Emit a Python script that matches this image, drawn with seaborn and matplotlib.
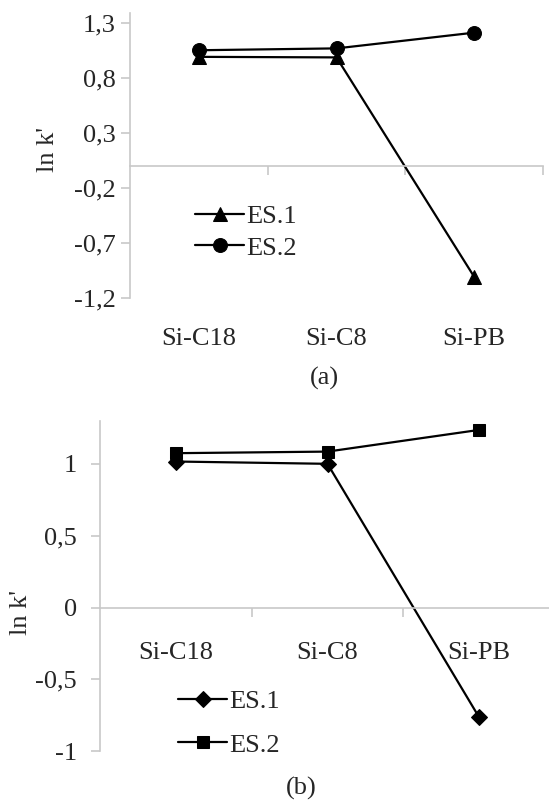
import matplotlib

matplotlib.use('Agg')
import matplotlib.pyplot as plt
import pandas as pd
import seaborn as sns
from matplotlib.ticker import FixedLocator

# data
phases = ['Si-C18', 'Si-C8', 'Si-PB']
series = ['ES.1', 'ES.2']
lnk_a_es1 = [0.99, 0.985, -1.01]
lnk_a_es2 = [1.05, 1.067, 1.21]
lnk_b_es1 = [1.016, 1.0, -0.764]
lnk_b_es2 = [1.074, 1.085, 1.236]
yticks_a = [-1.2, -0.7, -0.2, 0.3, 0.8, 1.3]
ytick_labels_a = ['-1,2', '-0,7', '-0,2', '0,3', '0,8', '1,3']
yticks_b = [-1, -0.5, 0, 0.5, 1]
ytick_labels_b = ['-1', '-0,5', '0', '0,5', '1']

GRAY = '#c8c8c8'


def long_df(es1, es2):
    return pd.DataFrame({
        'phase': phases * 2,
        'lnk': es1 + es2,
        'series': [series[0]] * 3 + [series[1]] * 3,
    })


def panel(ax, df, markers, msize, yticks, ylabels, ylim, label_pad, ylab_xy, leg_xy, leg_spacing):
    sns.lineplot(data=df, x='phase', y='lnk', hue='series', style='series',
                 markers=markers, dashes=False, palette=['black', 'black'],
                 markersize=msize, linewidth=1.6, sort=False, ax=ax,
                 markeredgecolor='black')
    ax.set_xlim(-0.5, 2.5)
    ax.set_ylim(*ylim)
    ax.set_yticks(yticks)
    ax.set_yticklabels(ylabels)
    ax.set_xticks(range(len(phases)))
    ax.set_xticklabels(phases)
    ax.xaxis.set_minor_locator(FixedLocator([0.5, 1.5, 2.5]))
    for s in ['top', 'right']:
        ax.spines[s].set_visible(False)
    ax.spines['left'].set_color(GRAY)
    ax.spines['left'].set_linewidth(1.2)
    ax.spines['bottom'].set_position(('data', 0))
    ax.spines['bottom'].set_color(GRAY)
    ax.spines['bottom'].set_linewidth(1.2)
    ax.tick_params(axis='y', length=6.5, width=1.2, color=GRAY, direction='out',
                   labelsize=19, pad=4, left=True)
    ax.tick_params(axis='x', which='major', length=0, labelsize=19, pad=label_pad, bottom=True)
    ax.tick_params(axis='x', which='minor', length=6.5, width=1.2, color=GRAY, direction='out', bottom=True)
    ax.set_xlabel('')
    ax.set_ylabel("ln k'", fontsize=19)
    ax.yaxis.set_label_coords(*ylab_xy)
    ax.legend(loc='upper left', bbox_to_anchor=leg_xy, frameon=False, fontsize=19,
              handlelength=1.85, handletextpad=0.1, labelspacing=leg_spacing,
              borderpad=0, borderaxespad=0, title=None)
    ax.grid(False)


def main():
    sns.set_style('white')
    plt.rcParams['font.family'] = ['Liberation Serif', 'DejaVu Serif']

    fig = plt.figure(figsize=(5.49, 8), dpi=100)

    ax_a = fig.add_axes([130 / 549, 1 - 297.7 / 800, 413 / 549, 284.4 / 800])
    panel(ax_a, long_df(lnk_a_es1, lnk_a_es2), ['^', 'o'], 10,
          yticks_a, ytick_labels_a, (-1.2, 1.386), 117,
          (-0.172, 0.52), (0.158, 0.327), 0.3)

    ax_b = fig.add_axes([100 / 549, 1 - 751.3 / 800, 455 / 549, 330.6 / 800])
    panel(ax_b, long_df(lnk_b_es1, lnk_b_es2), ['D', 's'], 8.5,
          yticks_b, ytick_labels_b, (-1, 1.3), 25,
          (-0.15, 0.42), (0.172, 0.186), 0.75)
    ax_b.tick_params(axis='y', pad=10)

    fig.text(324 / 549, 1 - 378 / 800, '(a)', fontsize=19, ha='center', va='center')
    fig.text(301 / 549, 1 - 788 / 800, '(b)', fontsize=19, ha='center', va='center')

    fig.savefig('out.png', dpi=100)
    plt.close(fig)


if __name__ == '__main__':
    main()
